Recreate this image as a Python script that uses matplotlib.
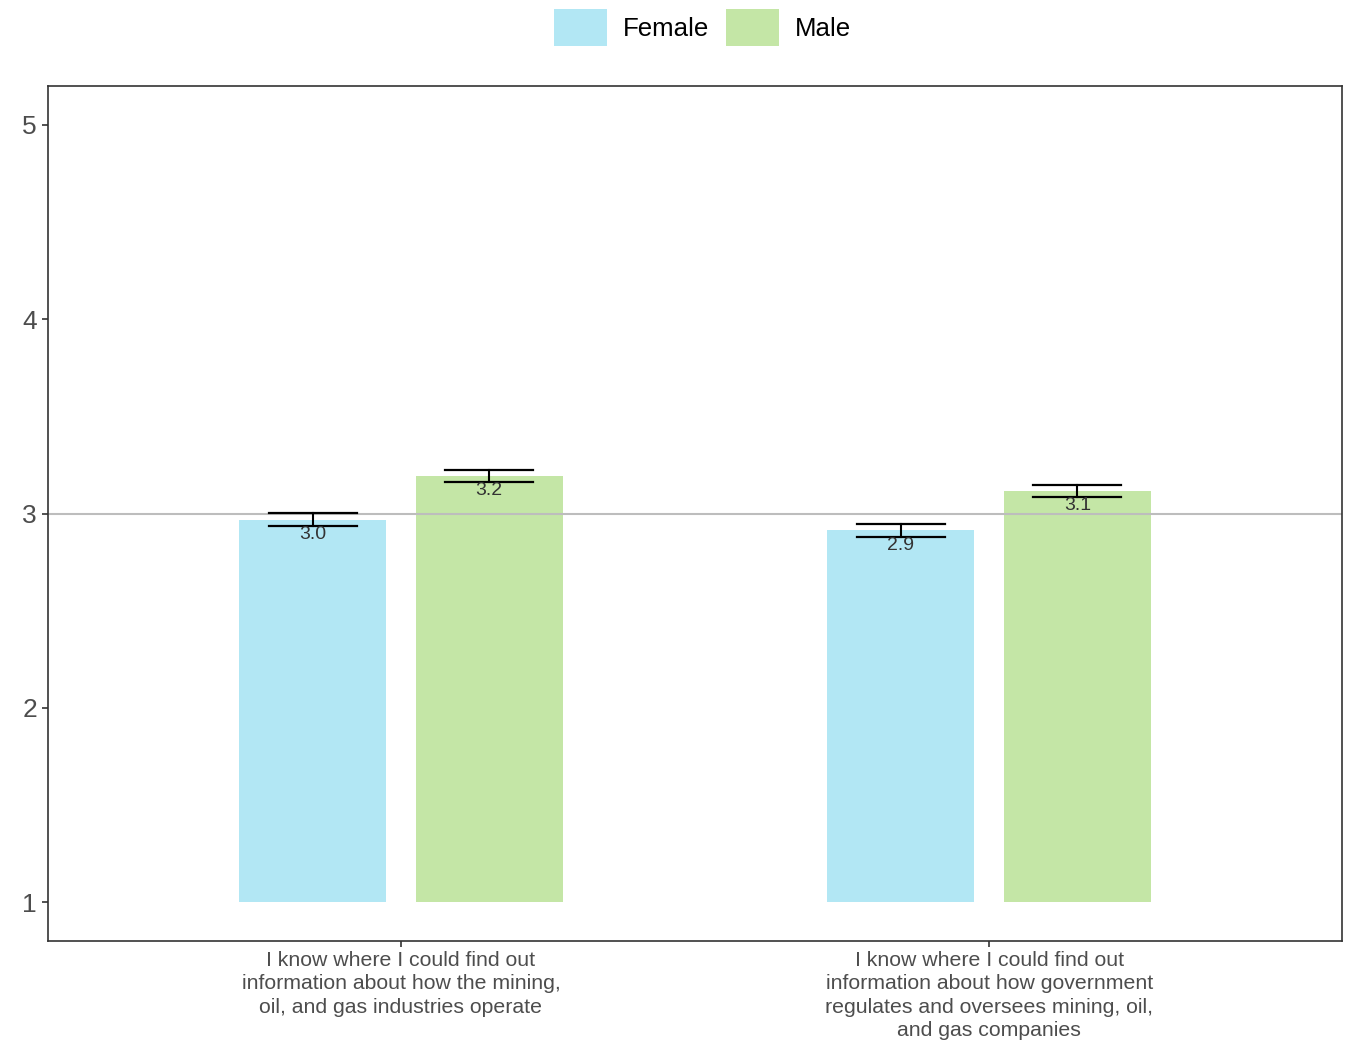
import matplotlib.pyplot as plt
from matplotlib.patches import Patch

plt.rcParams['font.family'] = ['Liberation Sans', 'DejaVu Sans']

# data
categories = ["I know where I could find out\ninformation about how the mining,\noil, and gas industries operate",
              "I know where I could find out\ninformation about how government\nregulates and oversees mining, oil,\nand gas companies"]
groups = ["Female", "Male"]
female_mean = [2.969, 2.913]
male_mean = [3.195, 3.115]
female_err = [0.034, 0.033]
male_err = [0.031, 0.031]
colors = {"Female": "#B2E7F4", "Male": "#C4E6A6"}

fig = plt.figure(figsize=(13.48, 10.4), dpi=100)
ax = fig.add_axes([0.0356, 0.0952, 0.96, 0.8221])

x = [1, 2]
offs = {"Female": -0.15, "Male": 0.15}
series = {"Female": (female_mean, female_err), "Male": (male_mean, male_err)}

ax.axhline(3, color="#BDBDBD", lw=1.5, zorder=1)
for g in groups:
    means, errs = series[g]
    xs = [xi + offs[g] for xi in x]
    ax.bar(xs, [m - 1 for m in means], bottom=1, width=0.25, color=colors[g], zorder=0.5)
    for xi, m, e in zip(xs, means, errs):
        ax.plot([xi, xi], [m - e, m + e], color="black", lw=1.5, zorder=3)
        for yy in (m - e, m + e):
            ax.plot([xi - 0.075, xi + 0.075], [yy, yy], color="black", lw=1.6, zorder=3)
        ax.annotate(f"{m:.1f}", (xi, m), xytext=(0, -4.5), textcoords="offset points",
                    ha="center", va="top", fontsize=14, color="#333333", zorder=4)

ax.set_xlim(0.4, 2.6)
ax.set_ylim(0.8, 5.2)
ax.set_yticks([1, 2, 3, 4, 5])
ax.set_xticks(x)
ax.set_xticklabels(categories, fontsize=15.3, color="#4D4D4D", linespacing=1.27)
ax.tick_params(axis="y", labelsize=19, labelcolor="#4D4D4D", length=4, width=1.2, color="#333333", pad=4)
ax.tick_params(axis="x", length=4, width=1.2, color="#333333", pad=3.5)
for s in ax.spines.values():
    s.set_color("#333333")
    s.set_linewidth(1.2)

handles = [Patch(facecolor=colors[g], edgecolor="none", label=g) for g in groups]
fig.legend(handles=handles, loc="center", bbox_to_anchor=(0.521, 0.9735), ncol=2, frameon=False,
           fontsize=18.6, handlelength=2.05, handleheight=1.86, handletextpad=0.62,
           columnspacing=0.66)

fig.savefig("out.png", dpi=100)
